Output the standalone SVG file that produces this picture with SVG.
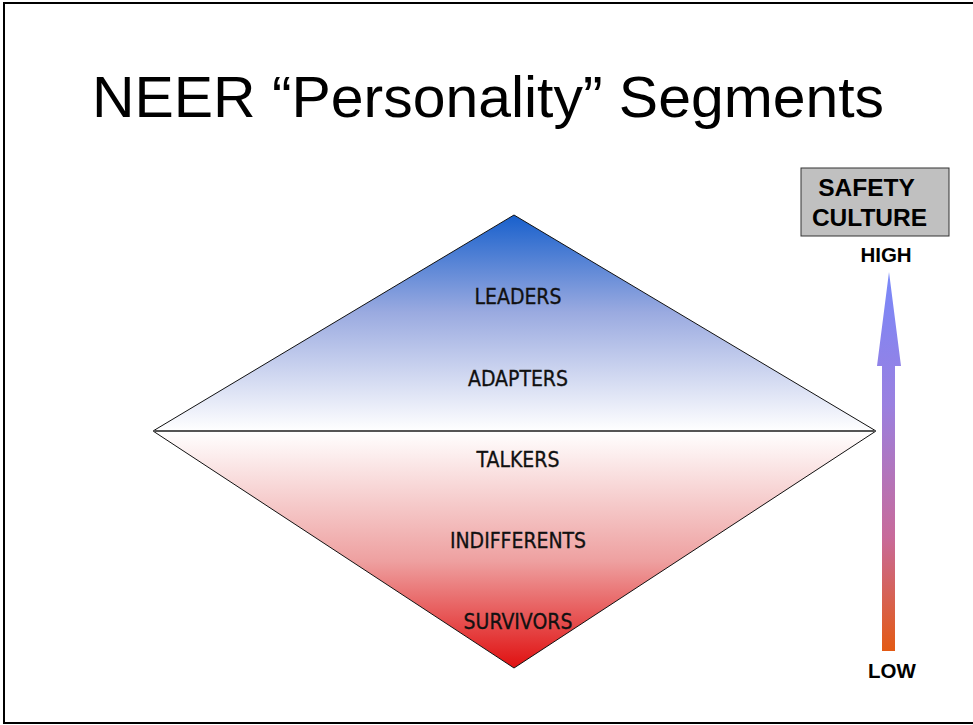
<svg xmlns="http://www.w3.org/2000/svg" width="973" height="725" viewBox="0 0 973 725">
<style>
.lbl{font-family:"DejaVu Sans Condensed","Liberation Sans Narrow","Liberation Sans",sans-serif;font-size:21px;fill:#111;text-anchor:middle;stroke:#111;stroke-width:0.3}
.bold{font-family:"Liberation Sans",Arial,sans-serif;font-weight:bold;fill:#000;text-anchor:middle}
</style>
<defs>
<linearGradient id="gTop" x1="0" y1="215" x2="0" y2="431" gradientUnits="userSpaceOnUse">
<stop offset="0" stop-color="#1860cc"/>
<stop offset="0.45" stop-color="#9aaae0"/>
<stop offset="1" stop-color="#ffffff"/>
</linearGradient>
<linearGradient id="gBot" x1="0" y1="431" x2="0" y2="668" gradientUnits="userSpaceOnUse">
<stop offset="0" stop-color="#ffffff"/>
<stop offset="0.55" stop-color="#eea0a0"/>
<stop offset="1" stop-color="#e01010"/>
</linearGradient>
<linearGradient id="gArrow" x1="0" y1="272" x2="0" y2="651" gradientUnits="userSpaceOnUse">
<stop offset="0" stop-color="#7888fa"/>
<stop offset="0.35" stop-color="#9a80e0"/>
<stop offset="0.7" stop-color="#c86a9a"/>
<stop offset="1" stop-color="#e35a14"/>
</linearGradient>
</defs>
<rect x="0" y="0" width="973" height="725" fill="#fff"/>
<rect x="4" y="3" width="990" height="720" fill="none" stroke="#000" stroke-width="2"/>
<text x="92" y="117" font-family="Liberation Sans,Arial,sans-serif" font-size="58" textLength="792" lengthAdjust="spacingAndGlyphs">NEER “Personality” Segments</text>
<g id="diamond">
<polygon points="514,215 876,431 153,431" fill="url(#gTop)" stroke="#111" stroke-width="1"/>
<polygon points="153,431 876,431 514,668" fill="url(#gBot)" stroke="#111" stroke-width="1"/>
<line x1="153" y1="431" x2="876" y2="431" stroke="#555" stroke-width="2"/>
</g>
<g id="leaders"><text class="lbl" x="518" y="304">LEADERS</text></g>
<g id="adapters"><text class="lbl" x="518" y="386">ADAPTERS</text></g>
<g id="talkers"><text class="lbl" x="518" y="467">TALKERS</text></g>
<g id="indifferents"><text class="lbl" x="518" y="548">INDIFFERENTS</text></g>
<g id="survivors"><text class="lbl" x="518" y="629">SURVIVORS</text></g>
<g id="safety-culture">
<rect x="801" y="168" width="148" height="68" fill="#c0c0c0" stroke="#333" stroke-width="1"/>
<text class="bold" x="866.5" y="196" font-size="24.5">SAFETY</text>
<text class="bold" x="869.5" y="226" font-size="24.5">CULTURE</text>
</g>
<g id="connectors">
<path d="M889,272 L901,366 L895,366 L895,651 L882,651 L882,366 L877,366 Z" fill="url(#gArrow)"/>
</g>
<g id="high"><text class="bold" x="886" y="262" font-size="20.5">HIGH</text></g>
<g id="low"><text class="bold" x="892" y="678" font-size="20.5">LOW</text></g>
</svg>
